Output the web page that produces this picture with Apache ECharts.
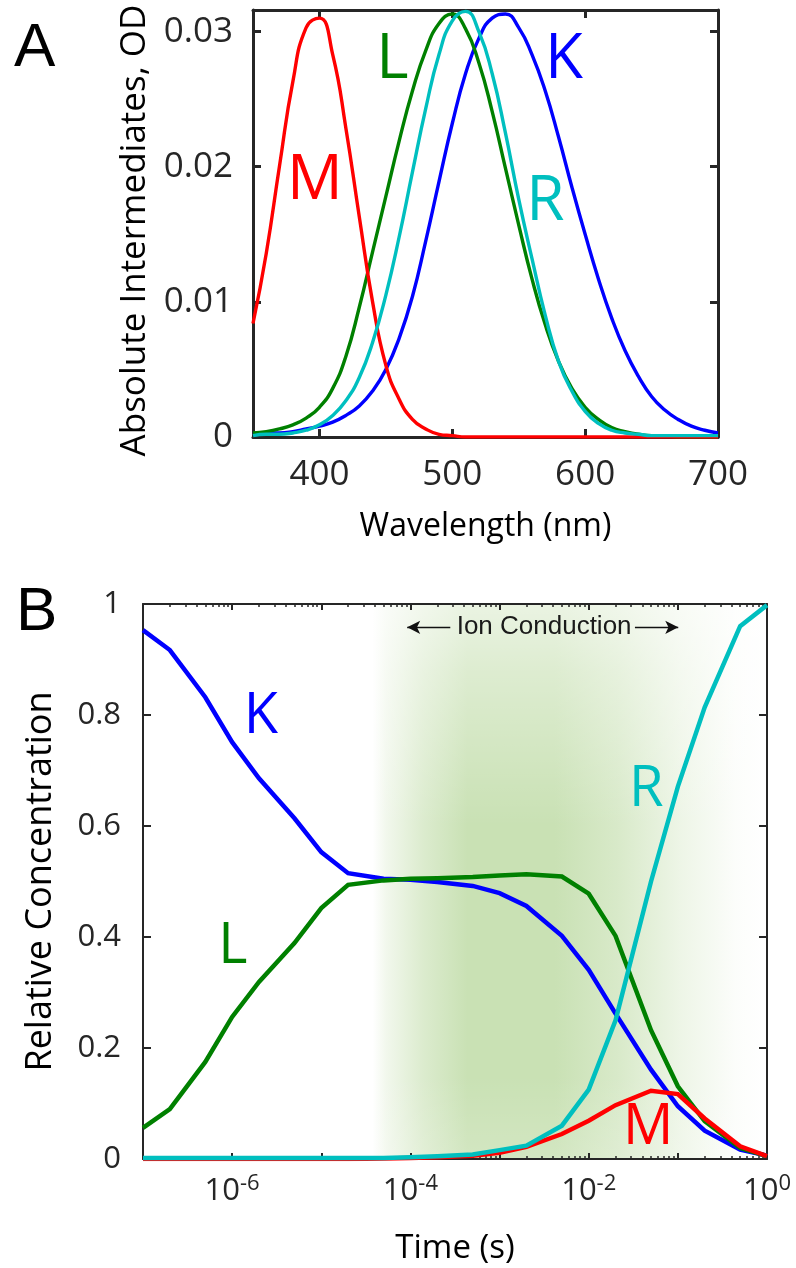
<!DOCTYPE html>
<html>
<head>
<meta charset="utf-8">
<script src="https://cdn.jsdelivr.net/npm/echarts@6/dist/echarts.min.js"></script>
<style>
html,body{margin:0;padding:0;background:#ffffff;}
#c{width:796px;height:1268px;}
</style>
</head>
<body>
<div id="c"></div>
<script>
// ---------- Panel A data (absorbance spectra) ----------
const wavelengths = [350,360,370,380,390,400,410,420,430,440,450,460,470,480,490,500,510,520,530,540,550,560,570,580,590,600,610,620,630,640,650,660,670,680,690,700];
const specK = [0.0002,0.0003,0.0003,0.0004,0.0006,0.0008,0.0011,0.0016,0.0023,0.0034,0.0050,0.0073,0.0104,0.0145,0.0189,0.0232,0.0269,0.0295,0.0310,0.0313,0.0303,0.0283,0.0256,0.0222,0.0185,0.0150,0.0117,0.0088,0.0064,0.0045,0.0030,0.0020,0.0013,0.0008,0.0005,0.0003];
const specL = [0.0003,0.0004,0.0006,0.0009,0.0014,0.0022,0.0036,0.0060,0.0096,0.0137,0.0178,0.0219,0.0256,0.0286,0.0306,0.0313,0.0302,0.0277,0.0241,0.0199,0.0157,0.0117,0.0083,0.0056,0.0036,0.0022,0.0013,0.0007,0.0004,0.0002,0.0001,0.0001,0.0000,0.0000,0.0000,0.0000];
const specM = [0.0084,0.0136,0.0201,0.0263,0.0303,0.0310,0.0283,0.0228,0.0163,0.0100,0.0053,0.0028,0.0013,0.0006,0.0002,0.0001,0.0000,0.0000,0.0000,0.0000,0.0000,0.0000,0.0000,0.0000,0.0000,0.0000,0.0000,0.0000,0.0000,0.0000,0.0000,0.0000,0.0000,0.0000,0.0000,0.0000];
const specR = [0.0001,0.0002,0.0002,0.0003,0.0005,0.0009,0.0016,0.0027,0.0044,0.0070,0.0105,0.0148,0.0196,0.0243,0.0283,0.0308,0.0315,0.0300,0.0269,0.0225,0.0176,0.0132,0.0090,0.0056,0.0034,0.0019,0.0010,0.0005,0.0003,0.0002,0.0001,0.0001,0.0001,0.0001,0.0001,0.0001];
const wlTickValues = [400,500,600];
const wlLabelValues = [400,500,600,700];
const odTickValues = [0.01,0.02,0.03];
const odLabelValues = [0,0.01,0.02,0.03];

// ---------- Panel B data (relative concentrations vs time) ----------
const times = [1e-7,2e-7,5e-7,1e-6,2e-6,5e-6,1e-5,2e-5,5e-5,1e-4,2e-4,5e-4,1e-3,2e-3,5e-3,1e-2,2e-2,5e-2,1e-1,2e-1,5e-1,1];
const concK = [0.953,0.917,0.832,0.751,0.686,0.614,0.553,0.515,0.505,0.503,0.499,0.492,0.479,0.456,0.402,0.341,0.262,0.161,0.095,0.051,0.017,0.006];
const concL = [0.056,0.090,0.175,0.256,0.319,0.389,0.452,0.494,0.502,0.505,0.506,0.508,0.511,0.513,0.509,0.478,0.402,0.232,0.131,0.068,0.020,0.005];
const concM = [0.000,0.000,0.000,0.000,0.000,0.000,0.000,0.000,0.001,0.002,0.003,0.006,0.011,0.022,0.045,0.069,0.097,0.123,0.117,0.073,0.023,0.005];
const concR = [0.002,0.002,0.002,0.002,0.002,0.002,0.002,0.002,0.002,0.003,0.005,0.008,0.016,0.024,0.060,0.125,0.250,0.500,0.671,0.814,0.960,0.998];
const decadeTicks = [1e-7,1e-6,1e-5,1e-4,1e-3,1e-2,1e-1,1];
const decadeLabels = [1e-6,1e-4,1e-2,1];
const minorTicks = [];
for (let e = -7; e < 0; e++) { for (let m = 2; m <= 9; m++) { minorTicks.push(m * Math.pow(10, e)); } }
const concTickValues = [0,0.2,0.4,0.6,0.8,1];

// annotation anchors (data coordinates)
const specLabelAnchors = { K:[584,0.0279], L:[455,0.0279], M:[396.6,0.0189], R:[570,0.0174] };
const concLabelAnchors = { K:[2.1e-6,0.796], L:[1.02e-6,0.382], M:[0.0466,0.056], R:[0.0442,0.665] };
const ionTextAnchor = [3.16e-3, 0.958];
const ionArrowLeft = [9.2e-5, 2.8e-4];
const ionArrowRight = [0.033, 0.101];
const ionArrowY = 0.958;

// ---------- styling ----------
const FONT = "'Open Sans', 'Noto Sans', sans-serif";
const FRAME = '#262626';
const COL = { K:'#0000ff', L:'#008000', M:'#ff0000', R:'#00bfbf' };
const GREEN = [201,225,180];
function g(a){ return 'rgba(' + GREEN[0] + ',' + GREEN[1] + ',' + GREEN[2] + ',' + a + ')'; }

const chart = echarts.init(document.getElementById('c'), null, { renderer:'canvas' });

function labelPoint(name, anchor, color, size) {
  return {
    silent:true, symbol:'circle', symbolSize:1,
    itemStyle:{ color:'rgba(0,0,0,0)' },
    label:{ show:true, position:'inside', formatter:name, color:color, fontSize:size, fontFamily:FONT },
    data:[{ coord:anchor }]
  };
}
function specSeries(name, arr) {
  return {
    name:name, type:'line', xAxisIndex:0, yAxisIndex:0,
    data: wavelengths.map((w,i)=>[w, arr[i]]),
    smooth:0.5, showSymbol:false, symbol:'none',
    lineStyle:{ color:COL[name], width:3.4 }, itemStyle:{ color:COL[name] },
    z:3, markPoint: labelPoint(name, specLabelAnchors[name], COL[name], 62)
  };
}
function concSeries(name, arr) {
  return {
    name:name, type:'line', xAxisIndex:2, yAxisIndex:2,
    data: times.map((t,i)=>[t, arr[i]]),
    showSymbol:false, symbol:'none',
    lineStyle:{ color:COL[name], width:4.5, join:'miter' }, itemStyle:{ color:COL[name] },
    z:3, markPoint: labelPoint(name, concLabelAnchors[name], COL[name], 56)
  };
}

const frameLine = (w)=>({ show:true, onZero:false, lineStyle:{ color:FRAME, width:w } });
const tickStyle = (len, w, vals)=>({ show:true, inside:true, length:len, customValues:vals, lineStyle:{ color:FRAME, width:w } });

const gradH = new echarts.graphic.LinearGradient(0,0,1,0,[
  { offset:0.00, color:g(0) },
  { offset:0.368, color:g(0) },
  { offset:0.39, color:g(0.25) },
  { offset:0.45, color:g(0.66) },
  { offset:0.52, color:g(1) },
  { offset:0.66, color:g(1) },
  { offset:0.76, color:g(0.72) },
  { offset:0.86, color:g(0.33) },
  { offset:0.95, color:g(0.06) },
  { offset:1.00, color:g(0) }
]);
const gradV = new echarts.graphic.LinearGradient(0,0,0,1,[
  { offset:0.00, color:'rgba(255,255,255,0.62)' },
  { offset:0.12, color:'rgba(255,255,255,0.38)' },
  { offset:0.40, color:'rgba(255,255,255,0)' },
  { offset:0.85, color:'rgba(255,255,255,0)' },
  { offset:1.00, color:'rgba(255,255,255,0.18)' }
]);

function expLabel(v) {
  const e = Math.round(Math.log10(v));
  return '{b|10}{s|' + e + '}';
}

const option = {
  animation:false,
  backgroundColor:'#ffffff',
  title:[
    { text:'A', left:14, top:18, padding:0, textStyle:{ fontSize:62, fontWeight:'normal', color:'#000', fontFamily:"'Liberation Sans', Arial, sans-serif" } },
    { text:'B', left:16, top:582, padding:0, textStyle:{ fontSize:62, fontWeight:'normal', color:'#000', fontFamily:"'Liberation Sans', Arial, sans-serif" } }
  ],
  grid:[
    { left:253, top:10, width:465, height:427, containLabel:false },
    { left:143, top:604, width:624, height:555, containLabel:false }
  ],
  xAxis:[
    { gridIndex:0, type:'value', min:350, max:700, position:'bottom', z:2,
      axisLine:frameLine(3), axisTick:tickStyle(8,3,wlTickValues), splitLine:{show:false},
      axisLabel:{ customValues:wlLabelValues, margin:21, fontSize:35, color:'#262626', fontFamily:FONT },
      name:'Wavelength (nm)', nameLocation:'middle', nameGap:74, nameTextStyle:{ fontSize:32, color:'#000', fontFamily:FONT } },
    { gridIndex:0, type:'value', min:350, max:700, position:'top', z:2,
      axisLine:frameLine(3), axisTick:tickStyle(8,3,wlTickValues), splitLine:{show:false}, axisLabel:{show:false} },
    { gridIndex:1, type:'log', logBase:10, min:1e-7, max:1, position:'bottom', z:2,
      axisLine:frameLine(2), axisTick:tickStyle(6,2,decadeTicks), splitLine:{show:false},
      axisLabel:{ customValues:decadeLabels, margin:14, formatter:expLabel, color:'#262626',
        rich:{ b:{ fontSize:31, fontFamily:FONT, color:'#262626' }, s:{ fontSize:22, fontFamily:FONT, color:'#262626', verticalAlign:'bottom', padding:[0,0,15,0] } } },
      name:'Time (s)', nameLocation:'middle', nameGap:73, nameTextStyle:{ fontSize:33, color:'#000', fontFamily:FONT } },
    { gridIndex:1, type:'log', logBase:10, min:1e-7, max:1, position:'top', z:2,
      axisLine:frameLine(2), axisTick:tickStyle(6,2,decadeTicks), splitLine:{show:false}, axisLabel:{show:false} },
    { gridIndex:1, type:'log', logBase:10, min:1e-7, max:1, position:'bottom', z:2,
      axisLine:{show:false, onZero:false}, axisTick:tickStyle(3,1.5,minorTicks), splitLine:{show:false}, axisLabel:{show:false} },
    { gridIndex:1, type:'log', logBase:10, min:1e-7, max:1, position:'top', z:2,
      axisLine:{show:false, onZero:false}, axisTick:tickStyle(3,1.5,minorTicks), splitLine:{show:false}, axisLabel:{show:false} }
  ],
  yAxis:[
    { gridIndex:0, type:'value', min:0, max:0.0316, position:'left', z:2,
      axisLine:frameLine(3), axisTick:tickStyle(8,3,odTickValues), splitLine:{show:false},
      axisLabel:{ customValues:odLabelValues, margin:20, fontSize:35, color:'#262626', fontFamily:FONT },
      name:'Absolute Intermediates, OD', nameLocation:'middle', nameRotate:90, nameGap:96,
      nameTextStyle:{ fontSize:35, color:'#000', fontFamily:FONT, padding:[0,14,0,0] } },
    { gridIndex:0, type:'value', min:0, max:0.0316, position:'right', z:2,
      axisLine:frameLine(3), axisTick:tickStyle(8,3,odTickValues), splitLine:{show:false}, axisLabel:{show:false} },
    { gridIndex:1, type:'value', min:0, max:1, interval:0.2, position:'left', z:2,
      axisLine:frameLine(2), axisTick:tickStyle(8,2,concTickValues), splitLine:{show:false},
      axisLabel:{ margin:22, fontSize:31, color:'#262626', fontFamily:FONT },
      name:'Relative Concentration', nameLocation:'middle', nameRotate:90, nameGap:84,
      nameTextStyle:{ fontSize:36, color:'#000', fontFamily:FONT } },
    { gridIndex:1, type:'value', min:0, max:1, interval:0.2, position:'right', z:2,
      axisLine:frameLine(2), axisTick:tickStyle(8,2,concTickValues), splitLine:{show:false}, axisLabel:{show:false} }
  ],
  series:[
    specSeries('K', specK),
    specSeries('L', specL),
    specSeries('M', specM),
    specSeries('R', specR),
    { name:'ion', type:'line', xAxisIndex:2, yAxisIndex:2, silent:true, z:1,
      data: times.map((t,i)=>[t, concK[i]]), showSymbol:false, symbol:'none', lineStyle:{ opacity:0 },
      markArea:{ silent:true, data:[
        [ { coord:[times[0],0], itemStyle:{ color:gradH } }, { coord:[times[times.length-1],1] } ],
        [ { coord:[times[0],0], itemStyle:{ color:gradV } }, { coord:[times[times.length-1],1] } ]
      ] },
      markLine:{ silent:true, symbol:['none','none'], label:{show:false}, lineStyle:{ color:'#111', width:1.3, type:'solid' },
        data:[
          [ { coord:[ionArrowLeft[0], ionArrowY], symbol:'arrow', symbolSize:[10,13] }, { coord:[ionArrowLeft[1], ionArrowY], symbol:'none' } ],
          [ { coord:[ionArrowRight[0], ionArrowY], symbol:'none' }, { coord:[ionArrowRight[1], ionArrowY], symbol:'arrow', symbolSize:[10,13] } ]
        ] },
      markPoint:{ silent:true, symbol:'circle', symbolSize:1, itemStyle:{ color:'rgba(0,0,0,0)' },
        label:{ show:true, position:'inside', formatter:'Ion Conduction', color:'#1a1a1a', fontSize:26, fontFamily:"'Liberation Sans', Arial, sans-serif" },
        data:[{ coord:ionTextAnchor }] }
    },
    concSeries('K', concK),
    concSeries('L', concL),
    concSeries('M', concM),
    concSeries('R', concR)
  ]
};
chart.setOption(option);
</script>
</body>
</html>
